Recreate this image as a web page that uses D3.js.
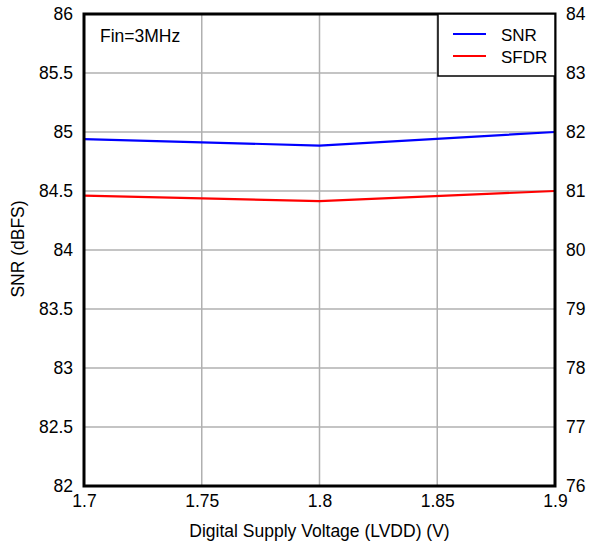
<!DOCTYPE html>
<html><head><meta charset="utf-8">
<script src="https://cdn.jsdelivr.net/npm/d3@7/dist/d3.min.js"></script>
<style>body{margin:0;background:#fff;}svg{display:block;font-family:"Liberation Sans",Arial,sans-serif;}</style>
</head><body><svg id="c" width="589" height="542"></svg>
<script>
const voltages = [1.7, 1.8, 1.9];
const snr = [84.94, 84.885, 85.0];
const sfdr = [80.92, 80.83, 81.0];
const xTicks = [1.7, 1.75, 1.8, 1.85, 1.9];
const yLeftTicks = [82, 82.5, 83, 83.5, 84, 84.5, 85, 85.5, 86];
const yRightTicks = [76, 77, 78, 79, 80, 81, 82, 83, 84];
const seriesNames = ["SNR", "SFDR"];
const seriesColors = ["#0000ff", "#ff0000"];

const svg = d3.select("#c");
const L = 84, R = 555, T = 14, B = 486;
const x = d3.scaleLinear().domain([1.7, 1.9]).range([L, R]);
const yL = d3.scaleLinear().domain([82, 86]).range([B, T]);
const yR = d3.scaleLinear().domain([76, 84]).range([B, T]);

svg.append("g").selectAll("line").data(xTicks).join("line")
  .attr("x1", d => x(d)).attr("x2", d => x(d)).attr("y1", T).attr("y2", B)
  .attr("stroke", "#b0b0b0").attr("stroke-width", 1.5);
svg.append("g").selectAll("line").data(yLeftTicks).join("line")
  .attr("y1", d => yL(d)).attr("y2", d => yL(d)).attr("x1", L).attr("x2", R)
  .attr("stroke", "#b0b0b0").attr("stroke-width", 1.5);

const fmt = d => String(d);
const axL = svg.append("g").attr("transform", `translate(${L},0)`)
  .call(d3.axisLeft(yL).tickValues(yLeftTicks).tickFormat(fmt).tickSize(0).tickPadding(11));
const axR = svg.append("g").attr("transform", `translate(${R},0)`)
  .call(d3.axisRight(yR).tickValues(yRightTicks).tickFormat(fmt).tickSize(0).tickPadding(11));
const axB = svg.append("g").attr("transform", `translate(0,${B})`)
  .call(d3.axisBottom(x).tickValues(xTicks).tickFormat(fmt).tickSize(0).tickPadding(9));
[axL, axR, axB].forEach(a => {
  a.select(".domain").remove();
  a.selectAll("text").attr("font-size", 17.5).attr("fill", "#000")
    .attr("font-family", '"Liberation Sans",Arial,sans-serif');
});

svg.append("path").datum(voltages.map((v, i) => [v, snr[i]]))
  .attr("d", d3.line().x(d => x(d[0])).y(d => yL(d[1])))
  .attr("fill", "none").attr("stroke", seriesColors[0]).attr("stroke-width", 2.2);
svg.append("path").datum(voltages.map((v, i) => [v, sfdr[i]]))
  .attr("d", d3.line().x(d => x(d[0])).y(d => yR(d[1])))
  .attr("fill", "none").attr("stroke", seriesColors[1]).attr("stroke-width", 2.2);

svg.append("rect").attr("x", L).attr("y", T).attr("width", R - L).attr("height", B - T)
  .attr("fill", "none").attr("stroke", "#000").attr("stroke-width", 3);

const lg = svg.append("g");
lg.append("rect").attr("x", 438).attr("y", T).attr("width", R - 438).attr("height", 62)
  .attr("fill", "#fff").attr("stroke", "#000").attr("stroke-width", 1.5);
seriesNames.forEach((n, i) => {
  const yy = 34 + i * 22;
  lg.append("line").attr("x1", 453).attr("x2", 486).attr("y1", yy).attr("y2", yy)
    .attr("stroke", seriesColors[i]).attr("stroke-width", 2);
  lg.append("text").attr("x", 501).attr("y", yy + 7).attr("font-size", 17).text(n);
});

svg.append("text").attr("x", 100).attr("y", 42).attr("font-size", 17.5).text("Fin=3MHz");

svg.append("text").attr("x", (L + R) / 2).attr("y", 537).attr("text-anchor", "middle")
  .attr("font-size", 17.5).text("Digital Supply Voltage (LVDD) (V)");
svg.append("text").attr("transform", `translate(23.5,249) rotate(-90)`)
  .attr("text-anchor", "middle").attr("font-size", 17.5).text("SNR (dBFS)");
</script></body></html>
